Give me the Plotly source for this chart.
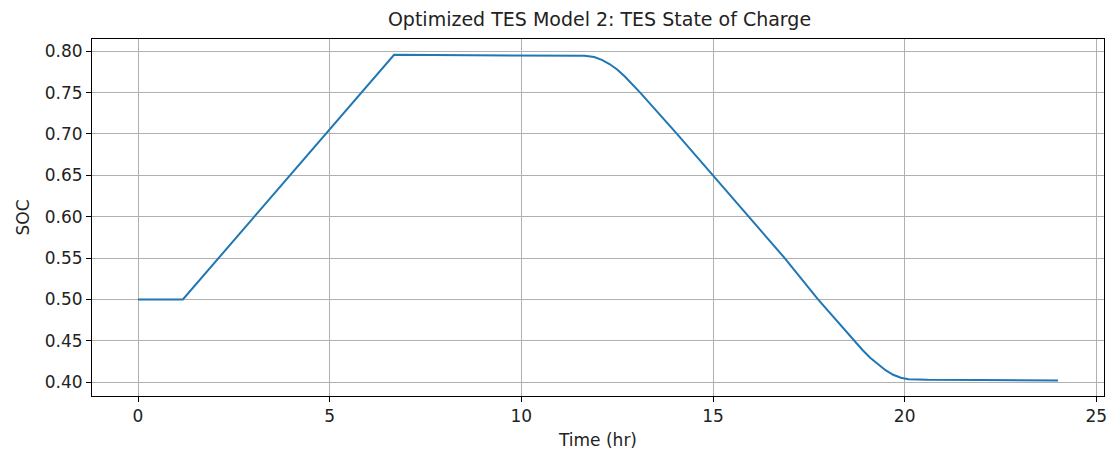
import plotly.graph_objects as go

# Thermal energy storage state of charge over a 24 h horizon
time_hr = [0.0, 1.17, 6.68, 11.65, 11.90, 12.10, 12.30, 12.50, 12.70, 12.90, 13.10,
           14.06, 14.99, 15.94, 16.87, 17.74, 18.50, 18.68, 18.90, 19.10, 19.30,
           19.50, 19.70, 19.90, 20.10, 20.30, 20.60, 22.00, 24.00]
soc = [0.500, 0.500, 0.7956, 0.7945, 0.7930, 0.7895, 0.7845, 0.7780, 0.7695, 0.7600, 0.7500,
       0.700, 0.650, 0.600, 0.550, 0.500, 0.4595, 0.4500, 0.4390, 0.4295, 0.4215,
       0.4145, 0.4090, 0.4055, 0.4037, 0.4031, 0.4029, 0.4026, 0.4022]

x_ticks = [0, 5, 10, 15, 20, 25]
y_ticks = [0.40, 0.45, 0.50, 0.55, 0.60, 0.65, 0.70, 0.75, 0.80]

font = "DejaVu Sans"
text_color = "#222222"

fig = go.Figure()
fig.add_trace(go.Scatter(
    x=time_hr, y=soc, mode="lines",
    line=dict(color="#1f77b4", width=2),
    showlegend=False,
))

axis_common = dict(
    showgrid=True, gridcolor="#b0b0b0", gridwidth=1,
    showline=True, linecolor="black", linewidth=1, mirror=True,
    ticks="outside", ticklen=5, tickcolor="black", tickwidth=1,
    tickfont=dict(family=font, size=17, color=text_color),
    zeroline=False,
)

fig.update_layout(
    width=1118, height=459,
    margin=dict(l=92, r=11, t=39, b=63),
    paper_bgcolor="white", plot_bgcolor="white",
    title=dict(text="Optimized TES Model 2: TES State of Charge",
               x=(92 + 1107) / 2 / 1118, xanchor="center",
               y=1 - 19 / 459, yanchor="middle",
               font=dict(family=font, size=19, color=text_color)),
    xaxis=dict(range=[-1.2, 25.2], tickvals=x_ticks,
               title=dict(text="Time (hr)", standoff=8,
                          font=dict(family=font, size=17, color=text_color)),
               **axis_common),
    yaxis=dict(range=[0.38335, 0.81475], tickvals=y_ticks, tickformat=".2f",
               title=dict(text="SOC", standoff=10,
                          font=dict(family=font, size=17, color=text_color)),
               **axis_common),
)

fig.write_html("out.html")
